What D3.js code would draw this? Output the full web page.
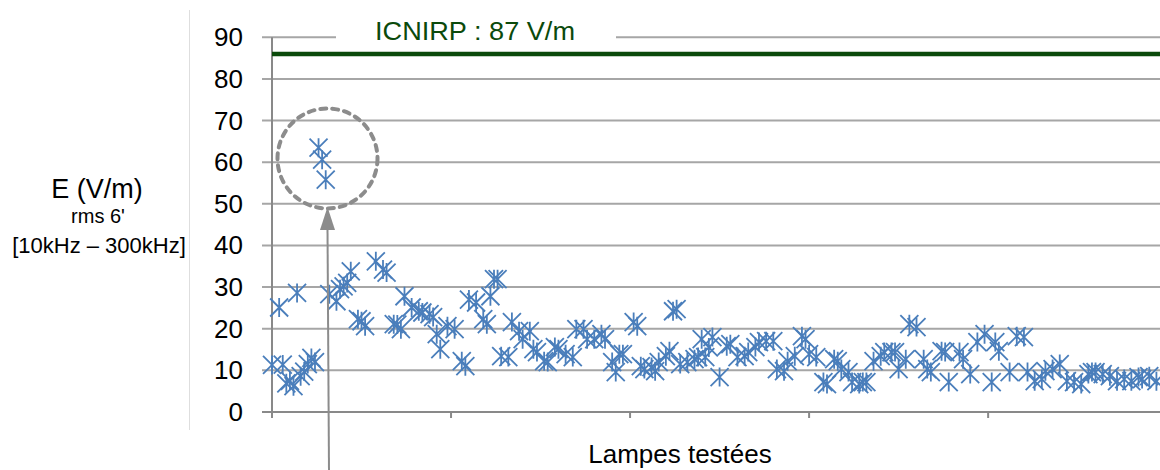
<!DOCTYPE html>
<html>
<head>
<meta charset="utf-8">
<script src="https://cdn.jsdelivr.net/npm/d3@7"></script>
<style>
  body { margin: 0; background: #fff; }
  text { font-family: "Liberation Sans", Arial, sans-serif; }
</style>
</head>
<body>
<div class="main"></div>
<script>
// lamp index (x) and measured field in V/m (y)
let lampIndex = [0, 2, 3, 4, 5, 6, 7, 8, 9, 10, 11, 12, 13, 14, 15,
  16, 18, 19, 20, 21, 22, 24, 25, 26, 29, 31, 32, 34, 35, 36, 37, 39, 41, 42, 44, 45, 46, 47, 49,
  51, 53, 54, 55, 57, 59, 60, 61, 62, 63, 64, 66, 67, 69, 70, 72, 73, 74, 76, 77, 79,
  80, 82, 84, 85, 87, 88, 90, 92, 93, 95, 96, 97, 98, 101, 102, 103, 104, 106, 107, 108,
  110, 111, 112, 113, 114, 116, 118, 119, 120, 121, 122, 123, 125, 127, 128, 130, 132, 133, 135, 136,
  138, 140, 141, 143, 144, 146, 148, 149, 150, 152, 154, 155, 157, 158, 159, 161, 162, 164, 165, 166,
  168, 170, 171, 173, 174, 175, 177, 178, 180, 182, 183, 184, 187, 188, 189, 192, 193, 195, 197, 199,
  201, 202, 203, 206, 208, 210, 211, 213, 215, 216, 218, 220, 222, 224, 226, 228, 229, 230, 232, 234,
  236, 238, 240, 242, 243, 245, 247];

let fieldValues = [11.3, 25.1, 11.4, 6.9, 7.5, 6.2, 28.6, 8.6, 9.7, 11.5, 13, 12, 63.5, 60.6, 55.8,
  28.3, 26.6, 29.5, 30.2, 31, 33.8, 22.3, 21.8, 20.6, 36.2, 34.2, 33.5, 21.1, 21, 19.9, 27.8, 25.1, 24.2, 23.9, 23.5, 22.8, 18.7, 15.1, 20.6,
  19.9, 12.2, 11, 27, 26.3, 22.3, 21.1, 27.8, 31.9, 31.9, 13.4, 13.2, 21.6, 19.4, 17.5, 19.4, 15.1, 14.4, 12.2, 12, 15.6,
  15.1, 13.9, 13.2, 19.9, 19.9, 17.5, 17.5, 18.7, 17.5, 12, 9.6, 13.9, 13.9, 21.6, 20.6, 11, 10.3, 10.8, 9.8, 12,
  13.4, 14.6, 24.2, 24.7, 11.5, 12, 12.7, 13.2, 17.5, 13.2, 15.5, 18, 8.4, 15.8, 16.3, 13.2, 13.4, 14.4, 15.6, 16.8,
  17, 17, 10.3, 9.8, 12.2, 13.4, 18.2, 17.5, 13.9, 13.2, 7.2, 6.7, 12.7, 12.2, 10.3, 9.6, 7.2, 6.7, 7.2, 7.2,
  12.2, 13.4, 14.4, 14.4, 14.4, 10.3, 12.7, 21.1, 20.4, 12.7, 10.3, 9.6, 14.6, 14.4, 7.2, 14.4, 12.7, 9.1, 16.8, 18.7,
  7.2, 16.8, 14.6, 9.6, 18.2, 18, 9.6, 7.4, 7.9, 9.8, 10.3, 11.5, 7.4, 7.2, 6.7, 9.1, 9.6, 9.6, 9.1, 8.6,
  7.4, 7.9, 7.4, 8.4, 7.9, 8.6, 7.4];

let yTicks = [0, 10, 20, 30, 40, 50, 60, 70, 80, 90];
let xTicks = [0, 50, 100, 150, 200];
let limitValue = 86;
let limitLabel = 'ICNIRP : 87 V/m';
let yTitle = ['E (V/m)', 'rms 6\'', '[10kHz \u2013 300kHz]'];
let xTitle = 'Lampes testées';

let opts = {
  width: 1160,
  height: 470,
  left: 272,
  right: 1160,
  top: 37.3,
  bottom: 412
};

let svg = d3.select('.main').append('svg')
  .attr('width', opts.width)
  .attr('height', opts.height);

let x = d3.scaleLinear().domain([0, 248]).range([opts.left, opts.right]);
let y = d3.scaleLinear().domain([0, 90]).range([opts.bottom, opts.top]);

// faint border on the left of the chart area
svg.append('line')
  .attr('x1', 189.5).attr('x2', 189.5)
  .attr('y1', 10).attr('y2', 430)
  .attr('stroke', '#dedede').attr('stroke-width', 1);

// horizontal gridlines
svg.selectAll('.grid').data(yTicks.filter(d => d > 0)).enter().append('line')
  .attr('class', 'grid')
  .attr('x1', 262).attr('x2', opts.right)
  .attr('y1', d => y(d)).attr('y2', d => y(d))
  .attr('stroke', '#a6a6a6').attr('stroke-width', 2);

// y tick labels
svg.selectAll('.ylab').data(yTicks).enter().append('text')
  .attr('class', 'ylab')
  .attr('x', 243)
  .attr('y', d => y(d) + 9)
  .attr('text-anchor', 'end')
  .attr('font-size', 26)
  .attr('fill', '#000')
  .text(d => d);

// axes
svg.append('line')
  .attr('x1', x(0)).attr('x2', x(0))
  .attr('y1', y(90)).attr('y2', 418)
  .attr('stroke', '#898989').attr('stroke-width', 2);
svg.append('line')
  .attr('x1', 262).attr('x2', opts.right)
  .attr('y1', y(0)).attr('y2', y(0))
  .attr('stroke', '#898989').attr('stroke-width', 2);
svg.selectAll('.xtick').data(xTicks).enter().append('line')
  .attr('class', 'xtick')
  .attr('x1', d => x(d)).attr('x2', d => x(d))
  .attr('y1', y(0)).attr('y2', 418)
  .attr('stroke', '#898989').attr('stroke-width', 2);

// ICNIRP limit
svg.append('line')
  .attr('x1', x(0)).attr('x2', opts.right)
  .attr('y1', y(limitValue)).attr('y2', y(limitValue))
  .attr('stroke', '#0b4a0b').attr('stroke-width', 4.5);
svg.append('rect')
  .attr('x', 336).attr('y', 16)
  .attr('width', 280).attr('height', 30)
  .attr('fill', '#fff');
svg.append('text')
  .attr('x', 375).attr('y', 40)
  .attr('font-size', 26.5)
  .attr('fill', '#0b4a0b')
  .attr('textLength', 200)
  .attr('lengthAdjust', 'spacingAndGlyphs')
  .text(limitLabel);

// star markers
let star = 'M-9,-9L9,9M-9,9L9,-9M0,-9.5L0,9.5';
svg.selectAll('.pt').data(d3.zip(lampIndex, fieldValues)).enter().append('path')
  .attr('class', 'pt')
  .attr('d', star)
  .attr('transform', d => `translate(${x(d[0])},${y(d[1])})`)
  .attr('fill', 'none')
  .attr('stroke', '#4a7ebb')
  .attr('stroke-width', 1.8);

// dashed circle around the outliers
svg.append('circle')
  .attr('cx', x(15.5)).attr('cy', y(60.9))
  .attr('r', 50)
  .attr('fill', 'none')
  .attr('stroke', '#8c8c8c')
  .attr('stroke-width', 4)
  .attr('stroke-dasharray', '6 6')
  .attr('stroke-linecap', 'round');

// arrow pointing at the circle
svg.append('line')
  .attr('x1', 329).attr('y1', 470)
  .attr('x2', 327.5).attr('y2', 228)
  .attr('stroke', '#8c8c8c').attr('stroke-width', 2);
svg.append('path')
  .attr('d', 'M327.5,207L335,230L320,230Z')
  .attr('fill', '#8c8c8c');

// titles
let yt = svg.append('text')
  .attr('text-anchor', 'middle')
  .attr('fill', '#000');
yt.append('tspan').attr('x', 97).attr('y', 198).attr('font-size', 27).text(yTitle[0]);
yt.append('tspan').attr('x', 98).attr('y', 223).attr('font-size', 20).text(yTitle[1]);
yt.append('tspan').attr('x', 99).attr('y', 253).attr('font-size', 22).text(yTitle[2]);

svg.append('text')
  .attr('x', 680).attr('y', 463)
  .attr('text-anchor', 'middle')
  .attr('font-size', 26)
  .attr('fill', '#000')
  .text(xTitle);
</script>
</body>
</html>
